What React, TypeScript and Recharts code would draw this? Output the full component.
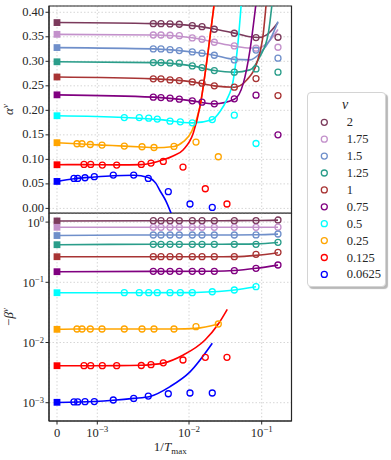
import React from 'react';
import { ComposedChart, Line, Scatter, XAxis, YAxis, CartesianGrid, ReferenceArea } from 'recharts';

const FONT = '"Liberation Serif", "DejaVu Serif", serif';
const INK = '#262626';

// series, legend order
const V_LABELS = ['2', '1.75', '1.5', '1.25', '1', '0.75', '0.5', '0.25', '0.125', '0.0625'];
const COLORS = ['#7b3a5c', '#c391cb', '#6f8fca', '#2a9d8a', '#a83434', '#800080', '#00ffff', '#ffa500', '#ff0000', '#0000ff'];

// 1/T_max of the measured points
const X_HI = [0.00408, 0.00495, 0.00621, 0.00784, 0.0111, 0.0151, 0.0223, 0.042, 0.0835, 0.1675];
const X_CYAN = [0.00197, 0.00287, 0.003636, 0.00451, 0.00621, 0.00804, 0.0111, 0.0209, 0.042, 0.0835];
const X_ORANGE = [0.000496, 0.00062, 0.000826, 0.001125, 0.00197, 0.003073, 0.004153, 0.00686, 0.01248, 0.0253];
const X_RED = [0.00067, 0.000836, 0.001134, 0.001627, 0.003019, 0.00385, 0.005245, 0.0086, 0.01676, 0.0333];
const X_BLUE = [0.00042, 0.000514, 0.000695, 0.000926, 0.001494, 0.002494, 0.003598, 0.005946, 0.01032, 0.0209];
const X_POINTS = [X_HI, X_HI, X_HI, X_HI, X_HI, X_HI, X_CYAN, X_ORANGE, X_RED, X_BLUE];

// extrapolated values at 1/T_max = 0
const ALPHA_0 = [0.379, 0.355, 0.328, 0.299, 0.268, 0.2316, 0.189, 0.134, 0.089, 0.055];
const BETA_0 = [1.045, 0.82, 0.598, 0.421, 0.266, 0.15, 0.0672, 0.01656, 0.00412, 0.001016];

const ALPHA_PTS = [
  [0.3768, 0.3768, 0.3762, 0.3756, 0.3727, 0.3707, 0.3654, 0.3572, 0.3483, 0.3491],
  [0.3537, 0.3537, 0.3531, 0.3523, 0.3477, 0.345, 0.3389, 0.3314, 0.3267, 0.3287],
  [0.3253, 0.3253, 0.3238, 0.3218, 0.3191, 0.3165, 0.3124, 0.3029, 0.323, 0.3063],
  [0.2974, 0.2974, 0.2967, 0.2961, 0.2906, 0.2872, 0.2811, 0.2778, 0.2845, 0.2778],
  [0.2642, 0.2642, 0.2621, 0.2607, 0.258, 0.2554, 0.2499, 0.2472, 0.2648, 0.2301],
  [0.2269, 0.2261, 0.2248, 0.2228, 0.2193, 0.2167, 0.2132, 0.2234, 0.231, 0.15],
  [0.1853, 0.1853, 0.1841, 0.1821, 0.1779, 0.1765, 0.1745, 0.1812, 0.1902, 0.1324],
  [0.1318, 0.1318, 0.1303, 0.1291, 0.1271, 0.1257, 0.1242, 0.1263, 0.1352, 0.1053],
  [0.0896, 0.0896, 0.0884, 0.0884, 0.0896, 0.0925, 0.0957, 0.0843, 0.0401, 0.009],
  [0.0611, 0.0611, 0.0625, 0.0646, 0.068, 0.068, 0.0611, 0.034, 0.009, 0.002],
];

const BETA_PTS = [
  [1.055, 1.055, 1.055, 1.055, 1.055, 1.055, 1.055, 1.055, 1.058, 1.084],
  [0.82, 0.82, 0.82, 0.82, 0.82, 0.82, 0.82, 0.82, 0.82, 0.823],
  [0.61, 0.61, 0.61, 0.61, 0.61, 0.61, 0.61, 0.61, 0.612, 0.634],
  [0.428, 0.428, 0.428, 0.428, 0.428, 0.428, 0.428, 0.428, 0.428, 0.462],
  [0.266, 0.266, 0.266, 0.266, 0.266, 0.266, 0.266, 0.266, 0.292, 0.315],
  [0.1523, 0.1523, 0.1523, 0.1523, 0.1523, 0.1523, 0.1523, 0.1561, 0.1708, 0.1938],
  [0.0672, 0.0672, 0.0672, 0.0672, 0.0672, 0.0672, 0.0672, 0.0697, 0.0745, 0.0845],
  [0.01676, 0.01676, 0.01676, 0.01676, 0.01676, 0.01676, 0.01676, 0.01676, 0.0183, 0.0203],
  [0.00412, 0.00412, 0.00412, 0.00412, 0.00415, 0.00428, 0.00459, 0.00512, 0.00568, 0.00568],
  [0.00103, 0.00103, 0.00104, 0.001046, 0.00111, 0.00118, 0.00129, 0.00141, 0.00145, 0.00145],
];

// fitted curves
const ALPHA_FIT_X = [
  [0, 0.00408, 0.0111, 0.0223, 0.042, 0.069, 0.089, 0.1172, 0.1675],
  [0, 0.00408, 0.0111, 0.0223, 0.042, 0.069, 0.089, 0.1172, 0.1675],
  [0, 0.00408, 0.0111, 0.0223, 0.042, 0.069, 0.0948, 0.13, 0.1675],
  [0, 0.00408, 0.0111, 0.0223, 0.042, 0.069, 0.0948, 0.1233, 0.1417],
  [0, 0.00408, 0.0111, 0.0223, 0.042, 0.0622, 0.0853, 0.1052, 0.1172],
  [0, 0.00408, 0.0111, 0.0223, 0.042, 0.0558, 0.069, 0.0853],
  [0, 0.00197, 0.00451, 0.0111, 0.0209, 0.0267, 0.033, 0.0407, 0.0476, 0.0531],
  [0, 0.000496, 0.001125, 0.00197, 0.003073, 0.004153, 0.00686, 0.00867, 0.01089, 0.01417, 0.01843, 0.02279],
  [0, 0.00067, 0.001627, 0.003019, 0.00385, 0.005245, 0.00669, 0.00867, 0.01146, 0.01417, 0.01843, 0.02279],
  [0, 0.00042, 0.000926, 0.001494, 0.002494, 0.003598, 0.00432, 0.00483, 0.00561, 0.006365, 0.00703],
];
const ALPHA_FIT_Y = [
  [0.379, 0.3768, 0.3727, 0.366, 0.3575, 0.35, 0.3485, 0.354, 0.379],
  [0.355, 0.3537, 0.348, 0.339, 0.331, 0.327, 0.327, 0.336, 0.365],
  [0.328, 0.3253, 0.319, 0.3124, 0.304, 0.303, 0.3165, 0.3436, 0.381],
  [0.299, 0.2974, 0.2906, 0.2811, 0.2778, 0.2825, 0.31, 0.357, 0.43],
  [0.268, 0.2642, 0.258, 0.2499, 0.2472, 0.262, 0.296, 0.357, 0.43],
  [0.2316, 0.2269, 0.2193, 0.2132, 0.2225, 0.255, 0.323, 0.43],
  [0.189, 0.1855, 0.1815, 0.1745, 0.181, 0.1976, 0.2214, 0.262, 0.3436, 0.43],
  [0.134, 0.1318, 0.129, 0.1271, 0.1252, 0.1238, 0.1263, 0.136, 0.157, 0.208, 0.323, 0.43],
  [0.089, 0.0893, 0.0888, 0.0893, 0.092, 0.099, 0.107, 0.1196, 0.1536, 0.208, 0.323, 0.43],
  [0.055, 0.0605, 0.064, 0.0665, 0.0675, 0.063, 0.052, 0.036, 0.015, -0.0094, -0.03],
];

const BETA_FIT_X = [
  [0, 0.00408, 0.0223, 0.042, 0.0835, 0.1675],
  [0, 0.00408, 0.0223, 0.042, 0.0835, 0.1675],
  [0, 0.00408, 0.0223, 0.042, 0.0835, 0.1675],
  [0, 0.00408, 0.0223, 0.042, 0.0835, 0.1675],
  [0, 0.00408, 0.0223, 0.042, 0.0835, 0.1675],
  [0, 0.00408, 0.0223, 0.042, 0.0835, 0.1675],
  [0, 0.00197, 0.0111, 0.0209, 0.042, 0.0835],
  [0, 0.000496, 0.00686, 0.01248, 0.0253],
  [0, 0.00067, 0.001627, 0.003019, 0.00385, 0.005245, 0.00867, 0.0166, 0.0253, 0.0336],
  [0, 0.000926, 0.001494, 0.002494, 0.003754, 0.00621, 0.01032, 0.0209],
];
const BETA_FIT_Y = [
  [1.045, 1.055, 1.055, 1.056, 1.06, 1.08],
  [0.82, 0.82, 0.82, 0.82, 0.82, 0.822],
  [0.598, 0.61, 0.61, 0.611, 0.615, 0.632],
  [0.421, 0.428, 0.428, 0.43, 0.435, 0.458],
  [0.266, 0.266, 0.266, 0.267, 0.28, 0.31],
  [0.15, 0.152, 0.153, 0.157, 0.171, 0.193],
  [0.0672, 0.0672, 0.0675, 0.0695, 0.0745, 0.0845],
  [0.01656, 0.01676, 0.01676, 0.0172, 0.0203],
  [0.00412, 0.00412, 0.00413, 0.0042, 0.0043, 0.00455, 0.0062, 0.011, 0.0203, 0.0356],
  [0.00101, 0.00105, 0.0011, 0.00118, 0.00127, 0.00185, 0.00325, 0.0097],
];

const X_TICKS = [0, 0.001, 0.01, 0.1];
const X_TICK_TEXT = [['0', ''], ['10', '−3'], ['10', '−2'], ['10', '−1']];
const ALPHA_TICKS = [0, 0.05, 0.1, 0.15, 0.2, 0.25, 0.3, 0.35, 0.4];
const BETA_TICKS = [0.001, 0.01, 0.1, 1];
const BETA_TICK_EXP = ['−3', '−2', '−1', '0'];

// axis: linear near 0, then log decades (upper decade narrower)
function xPos(x: number) {
  if (x <= 1e-3) return (40.3 * x) / 1e-3;
  const l = Math.log10(x);
  if (l <= -2) return 40.3 + 91.7 * (l + 3);
  return 132 + 72.7 * (l + 2);
}
const X_DOMAIN = [-8, 234.5];
const X_TICK_POS = X_TICKS.map(xPos);

const pts = (xs: number[], ys: number[]) => xs.map((x, i) => ({ u: xPos(x), v: ys[i] }));

const OpenCircle = (color: string) => (p: any) =>
  p.cx == null ? null : <circle cx={p.cx} cy={p.cy} r={3} fill="none" stroke={color} strokeWidth={1.3} />;
const Square = (color: string) => (p: any) =>
  p.cx == null ? null : <rect x={p.cx - 3.4} y={p.cy - 3.4} width={6.8} height={6.8} fill={color} />;

const XTick = (props: any) => {
  const { x, y, payload } = props;
  const i = X_TICK_POS.findIndex((t) => Math.abs(t - payload.value) < 1e-6);
  const [base, exp] = X_TICK_TEXT[i < 0 ? 0 : i];
  return (
    <text x={x} y={y + 10} textAnchor="middle" fontFamily={FONT} fontSize={12.5} fill={INK}>
      {base}
      {exp ? <tspan dy={-5} fontSize={9}>{exp}</tspan> : null}
    </text>
  );
};

const AlphaTick = (props: any) => {
  const { x, y, payload } = props;
  return (
    <text x={x} y={y + 3.5} textAnchor="end" fontFamily={FONT} fontSize={12.5} fill={INK}>
      {Number(payload.value).toFixed(2)}
    </text>
  );
};

const BetaTick = (props: any) => {
  const { x, y, payload } = props;
  const i = BETA_TICKS.findIndex((t) => Math.abs(t - payload.value) / t < 1e-6);
  return (
    <text x={x} y={y + 4.5} textAnchor="end" fontFamily={FONT} fontSize={12.5} fill={INK}>
      10
      <tspan dy={-4.5} fontSize={8.5}>{BETA_TICK_EXP[i < 0 ? 0 : i]}</tspan>
    </text>
  );
};

const AlphaLabel = (props: any) => {
  const { viewBox } = props;
  const cy = viewBox.y + viewBox.height / 2;
  return (
    <text x={13} y={cy} transform={`rotate(-90, 13, ${cy})`} textAnchor="middle" fontFamily={FONT} fontSize={13} fill={INK} fontStyle="italic">
      α<tspan dy={-5} fontSize={9}>v</tspan>
    </text>
  );
};

const BetaLabel = (props: any) => {
  const { viewBox } = props;
  const cy = viewBox.y + viewBox.height / 2;
  return (
    <text x={13} y={cy} transform={`rotate(-90, 13, ${cy})`} textAnchor="middle" fontFamily={FONT} fontSize={13} fill={INK}>
      −<tspan fontStyle="italic">β</tspan>
      <tspan dy={-5} fontSize={9} fontStyle="italic">v</tspan>
    </text>
  );
};

const XLabel = (props: any) => {
  const { viewBox } = props;
  const cx = viewBox.x + viewBox.width / 2;
  return (
    <text x={cx} y={viewBox.y + 30} textAnchor="middle" fontFamily={FONT} fontSize={13} fill={INK}>
      1/<tspan fontStyle="italic">T</tspan>
      <tspan dy={3} fontSize={9}>max</tspan>
    </text>
  );
};

function Legend() {
  return (
    <div
      style={{
        position: 'absolute', left: 307, top: 92, width: 79, height: 195,
        background: '#fff', border: '1px solid #d4d4d4', borderRadius: 4,
        boxShadow: '2px 2px 1px rgba(0,0,0,0.28)', boxSizing: 'border-box',
      }}
    >
      <svg width={79} height={195} style={{ position: 'absolute', left: -1, top: -1 }}>
        <text x={38} y={17} textAnchor="middle" fontFamily={FONT} fontStyle="italic" fontSize={14} fill={INK}>v</text>
        {V_LABELS.map((lab, i) => {
          const cy = 30.3 + i * 16.9;
          return (
            <g key={lab}>
              <circle cx={17.3} cy={cy} r={3} fill="none" stroke={COLORS[i]} strokeWidth={1.3} />
              <text x={39.7} y={cy + 4} fontFamily={FONT} fontSize={12.5} fill={INK}>{lab}</text>
            </g>
          );
        })}
      </svg>
    </div>
  );
}

const ALPHA_DOMAIN = [-0.0094, 0.4128];
const BETA_DOMAIN = [4.97e-4, 1.416];

export default function App() {
  const idx = V_LABELS.map((_, i) => i);
  return (
    <div style={{ position: 'absolute', left: 0, top: 0, width: 391, height: 460, background: '#fff' }}>
      <div style={{ position: 'absolute', left: 0, top: 0 }}>
        <ComposedChart width={391} height={217} margin={{ top: 6, right: 99.5, bottom: 4, left: 0 }}>
          <CartesianGrid stroke="#d6d6d6" strokeDasharray="1.5 2" />
          <XAxis type="number" dataKey="u" domain={X_DOMAIN} ticks={X_TICK_POS} allowDataOverflow interval={0}
            height={0} tick={() => null} tickSize={3.5} stroke={INK} />
          <YAxis type="number" domain={ALPHA_DOMAIN} ticks={ALPHA_TICKS} allowDataOverflow width={49} interval={0}
            tick={<AlphaTick />} tickSize={3.5} tickMargin={1.5} stroke={INK} label={<AlphaLabel />} />
          {idx.map((i) => (
            <Line key={'af' + i} data={pts(ALPHA_FIT_X[i], ALPHA_FIT_Y[i])} dataKey="v" type="monotone"
              stroke={COLORS[i]} strokeWidth={1.6} dot={false} isAnimationActive={false} />
          ))}
          {idx.map((i) => (
            <Scatter key={'ap' + i} data={pts(X_POINTS[i], ALPHA_PTS[i])} dataKey="v"
              shape={OpenCircle(COLORS[i])} isAnimationActive={false} />
          ))}
          {idx.map((i) => (
            <Scatter key={'a0' + i} data={pts([0], [ALPHA_0[i]])} dataKey="v"
              shape={Square(COLORS[i])} isAnimationActive={false} />
          ))}
          <ReferenceArea x1={X_DOMAIN[0]} x2={X_DOMAIN[1]} y1={ALPHA_DOMAIN[0]} y2={ALPHA_DOMAIN[1]}
            fill="none" fillOpacity={0} stroke={INK} strokeWidth={1.2} />
        </ComposedChart>
      </div>
      <div style={{ position: 'absolute', left: 0, top: 213 }}>
        <ComposedChart width={391} height={247} margin={{ top: 0, right: 99.5, bottom: 0, left: 0 }}>
          <CartesianGrid stroke="#d6d6d6" strokeDasharray="1.5 2" />
          <XAxis type="number" dataKey="u" domain={X_DOMAIN} ticks={X_TICK_POS} allowDataOverflow interval={0}
            height={39} tick={<XTick />} tickSize={3.5} stroke={INK} label={<XLabel />} />
          <YAxis type="number" scale="log" domain={BETA_DOMAIN} ticks={BETA_TICKS} allowDataOverflow width={49} interval={0}
            tick={<BetaTick />} tickSize={3.5} tickMargin={1.5} stroke={INK} label={<BetaLabel />} />
          {idx.map((i) => (
            <Line key={'bf' + i} data={pts(BETA_FIT_X[i], BETA_FIT_Y[i])} dataKey="v" type="monotone"
              stroke={COLORS[i]} strokeWidth={1.6} dot={false} isAnimationActive={false} />
          ))}
          {idx.map((i) => (
            <Scatter key={'bp' + i} data={pts(X_POINTS[i], BETA_PTS[i])} dataKey="v"
              shape={OpenCircle(COLORS[i])} isAnimationActive={false} />
          ))}
          {idx.map((i) => (
            <Scatter key={'b0' + i} data={pts([0], [BETA_0[i]])} dataKey="v"
              shape={Square(COLORS[i])} isAnimationActive={false} />
          ))}
          <ReferenceArea x1={X_DOMAIN[0]} x2={X_DOMAIN[1]} y1={BETA_DOMAIN[0]} y2={BETA_DOMAIN[1]}
            fill="none" fillOpacity={0} stroke={INK} strokeWidth={1.2} />
        </ComposedChart>
      </div>
      <Legend />
    </div>
  );
}
